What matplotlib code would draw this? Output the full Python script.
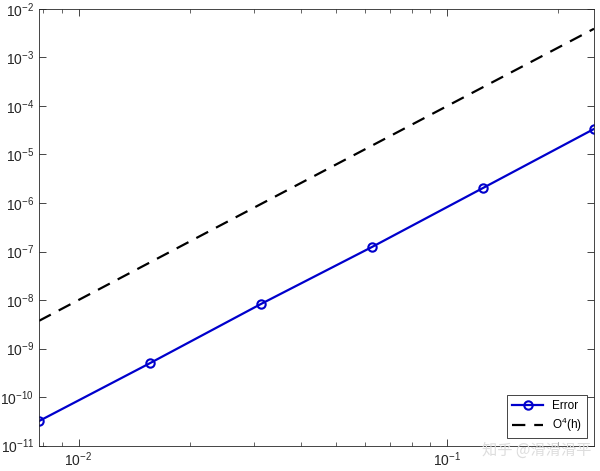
import numpy as np
import matplotlib
matplotlib.use("Agg")
import matplotlib.pyplot as plt

plt.rcParams["font.family"] = ["Liberation Sans", "DejaVu Sans"]
plt.rcParams["mathtext.fontset"] = "custom"
plt.rcParams["mathtext.rm"] = "Liberation Sans"
plt.rcParams["mathtext.it"] = "Liberation Sans:italic"

# шаги сетки h и ошибка
h = [1 / 128, 1 / 64, 1 / 32, 1 / 16, 1 / 8, 1 / 4]
error = [3.2e-11, 5.0e-10, 8.3e-9, 1.24e-7, 2.04e-6, 3.36e-5]
ref_order = [x ** 4 for x in h]  # O(h^4)

axis_color = "#262626"

fig = plt.figure(figsize=(6.0, 4.71), dpi=100)
ax = fig.add_axes([0.065, 0.054, 0.925, 0.927])

ax.loglog(h, error, "-o", color="#0000cc", lw=1.6, ms=6, mfc="none", mew=1.5,
          label="Error")
ax.loglog(h, ref_order, "--", color="black", lw=1.6, dashes=(6, 4),
          label=r"O$^4$(h)")

ax.set_xlim(1 / 128, 1 / 4)
ax.set_ylim(1e-11, 1e-2)
ax.set_yticks([10.0 ** k for k in range(-11, -1)])

ax.tick_params(which="both", direction="in", top=True, right=True,
               colors=axis_color, labelsize=10)
ax.tick_params(which="major", length=5, width=0.6)
ax.tick_params(which="minor", length=3, width=0.5)
for s in ax.spines.values():
    s.set_color(axis_color)
    s.set_linewidth(0.6)

leg = ax.legend(loc="lower right", fontsize=8.5, fancybox=False,
                framealpha=1, edgecolor=axis_color, borderaxespad=0.6,
                handlelength=2.6, labelspacing=0.3)
leg.get_frame().set_linewidth(0.6)

# водяной знак
fig.text(0.985, 0.025, "知乎 @滑滑滑平", ha="right", va="bottom", fontsize=11,
         color="#dddddd", family=["Noto Sans CJK SC", "DejaVu Sans"])

fig.savefig("out.png", dpi=100)
